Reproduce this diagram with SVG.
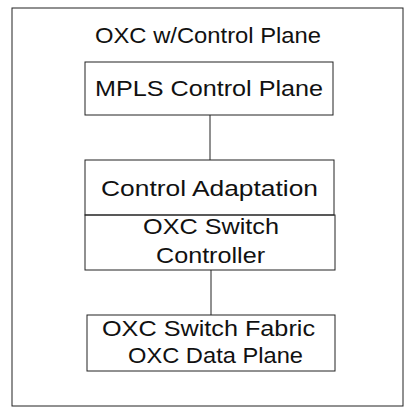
<svg xmlns="http://www.w3.org/2000/svg" width="409" height="408" viewBox="0 0 409 408">
<style>
.box{fill:none;stroke:#222;stroke-width:1}
.t{font-family:"Liberation Sans",Arial,sans-serif;font-size:21.5px;fill:#111}
.c{stroke:#222;stroke-width:1;fill:none}
</style>
<rect width="409" height="408" fill="#fff"/>
<g id="outer">
<rect class="box" x="12" y="8" width="391" height="398"/>
<text class="t" x="95" y="43" textLength="226" lengthAdjust="spacingAndGlyphs">OXC w/Control Plane</text>
</g>
<g id="connectors">
<line class="c" x1="210" y1="115" x2="210" y2="160"/>
<line class="c" x1="211" y1="270" x2="211" y2="315"/>
</g>
<g id="mpls">
<rect class="box" x="85" y="62" width="248" height="53"/>
<text class="t" x="95" y="96" textLength="228" lengthAdjust="spacingAndGlyphs">MPLS Control Plane</text>
</g>
<g id="adaptation">
<rect class="box" x="85" y="160" width="249" height="55"/>
<text class="t" x="101" y="196" textLength="217" lengthAdjust="spacingAndGlyphs">Control Adaptation</text>
</g>
<g id="controller">
<rect class="box" x="85" y="215" width="250" height="55"/>
<text class="t" x="143" y="234" textLength="136" lengthAdjust="spacingAndGlyphs">OXC Switch</text>
<text class="t" x="156" y="263" textLength="109" lengthAdjust="spacingAndGlyphs">Controller</text>
</g>
<g id="fabric">
<rect class="box" x="87" y="315" width="248" height="56"/>
<text class="t" x="102" y="336" textLength="213" lengthAdjust="spacingAndGlyphs">OXC Switch Fabric</text>
<text class="t" x="128" y="363" textLength="175" lengthAdjust="spacingAndGlyphs">OXC Data Plane</text>
</g>
</svg>
